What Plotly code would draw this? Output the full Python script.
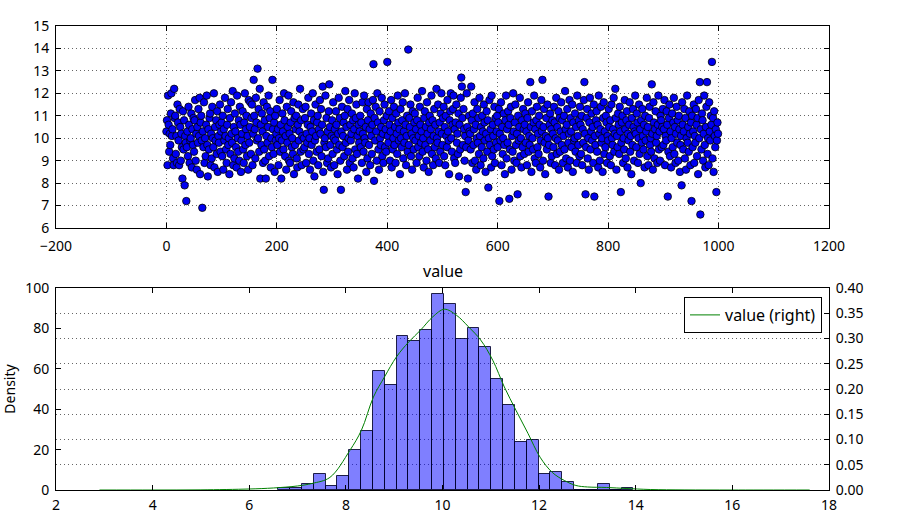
import plotly.graph_objects as go

# ---- data ----
values = [
10.3,10.8,8.8,11.9,10.6,9.4,10.2,9.7,11.1,12.0,10.1,10.4,9.1,8.8,12.2,10.9,11.0,9.3,10.1,8.9,11.5,10.7,9.9,8.8,11.3,10.5,9.0,10.2,9.6,8.2,11.2,9.5,10.8,7.9,10.1,9.8,7.2,9.6,10.3,9.2,11.4,10.6,8.9,9.9,10.0,11.1,8.7,10.4,9.7,10.9,
9.4,10.8,11.7,9.0,10.2,8.6,10.5,9.8,11.3,10.1,11.8,8.4,10.7,11.0,9.9,6.9,10.3,9.6,11.6,8.9,10.0,9.2,10.6,11.9,9.7,8.3,10.4,9.5,10.9,11.1,8.8,10.2,9.1,11.4,10.0,9.6,12.0,8.7,10.5,9.9,10.8,9.3,11.2,8.5,10.1,9.8,10.6,11.5,9.4,10.3,
10.7,9.2,11.0,8.6,10.4,9.9,11.8,10.1,9.5,8.9,10.6,11.3,9.7,10.0,8.4,10.9,9.3,11.6,10.2,9.8,12.1,8.8,10.5,9.1,11.1,10.3,9.6,8.7,11.9,10.0,9.4,10.8,9.0,11.4,10.6,8.5,9.9,10.2,11.2,9.5,8.9,10.7,12.0,9.7,10.4,11.0,9.2,10.1,8.6,11.7,
9.8,10.5,11.6,9.3,10.9,11.5,8.8,10.2,12.6,11.0,10.4,9.1,11.8,10.7,9.9,13.1,10.0,11.3,9.4,12.2,8.2,10.6,9.7,11.1,10.3,8.9,11.6,9.5,10.8,9.0,8.2,10.1,11.4,9.8,10.5,11.9,9.2,10.9,11.2,8.7,10.0,9.6,12.6,10.4,9.3,10.7,8.5,11.0,9.9,10.2,
11.3,9.7,10.4,8.8,10.0,11.7,9.4,10.6,8.2,9.9,11.1,10.3,9.5,12.0,10.8,9.2,10.1,8.6,11.4,9.8,10.5,11.9,9.0,10.2,8.9,10.7,11.2,9.6,10.0,9.3,11.6,8.4,10.9,9.7,10.4,11.0,9.1,8.7,10.6,11.5,9.9,10.3,12.2,9.4,10.8,8.8,10.1,11.3,9.5,10.0,
9.6,10.9,11.4,8.9,10.2,9.8,10.6,11.8,9.3,10.0,8.6,10.5,11.1,9.7,10.3,12.0,9.0,10.8,8.3,9.9,11.5,10.1,9.4,10.7,11.0,8.8,10.4,9.5,11.7,10.2,11.3,9.2,10.6,12.3,8.5,7.7,9.8,10.0,11.9,9.6,10.9,8.9,10.3,9.1,11.2,12.4,10.5,9.7,8.7,10.1,
10.8,9.3,11.6,10.0,8.8,10.4,9.9,11.2,10.6,9.5,8.4,10.2,11.8,9.7,10.9,9.0,7.7,10.3,11.4,9.6,10.1,10.7,9.2,11.0,12.1,9.8,10.5,8.6,11.3,9.4,10.0,11.7,8.9,10.6,9.9,10.2,11.1,9.1,10.8,8.7,10.4,12.0,9.5,10.9,11.5,9.3,10.1,8.2,10.6,9.8,
10.3,11.0,9.6,10.7,8.9,11.6,10.2,9.4,11.9,10.0,9.8,10.5,8.5,11.3,9.1,10.8,11.6,9.7,10.4,8.8,11.1,10.1,9.3,10.6,11.7,13.3,8.1,10.9,9.9,11.4,10.3,9.0,12.0,10.7,9.5,8.6,11.2,10.0,9.7,10.5,11.8,9.2,10.2,8.9,10.8,11.5,9.6,10.4,9.4,11.0,
13.4,10.1,9.8,11.2,10.6,9.0,10.3,11.7,8.7,10.9,9.5,10.0,11.4,9.7,10.5,8.9,11.1,10.2,9.3,11.9,10.7,9.9,10.4,8.4,11.3,10.0,9.6,10.8,11.6,9.1,10.3,9.8,12.0,10.6,8.8,10.1,11.0,9.4,13.95,9.7,10.9,10.5,11.5,9.2,10.2,8.6,11.2,10.0,9.5,10.7,
11.1,9.9,10.4,8.9,10.8,11.8,9.6,10.1,9.2,11.4,10.6,9.8,10.3,12.1,9.4,10.0,8.7,10.9,11.2,9.7,10.5,9.0,11.6,10.2,9.5,8.5,10.7,11.0,9.9,10.4,11.9,9.3,10.8,8.8,10.1,11.3,9.6,10.6,9.1,12.2,10.0,9.8,11.5,10.3,8.9,10.7,9.4,11.1,12.0,10.2,
9.7,10.9,11.4,9.2,10.5,8.8,11.0,10.1,9.6,11.7,10.3,9.9,8.4,10.8,11.2,12.0,10.0,9.4,10.6,11.3,11.9,9.1,10.4,8.9,10.7,11.5,9.8,10.2,9.3,11.1,8.3,10.6,9.5,11.8,12.7,12.3,10.9,9.7,11.3,10.4,9.0,10.1,7.6,9.6,12.0,10.5,8.2,9.9,11.0,10.3,
10.2,9.5,12.3,10.8,8.9,11.1,9.7,10.4,11.6,9.0,10.6,8.6,10.0,11.3,9.8,10.9,9.3,11.8,10.1,8.8,10.5,9.6,11.0,10.3,9.1,11.5,10.7,9.9,8.5,10.2,11.2,9.4,10.8,7.8,10.0,11.7,9.7,10.4,8.7,11.9,9.2,10.6,10.1,9.5,11.4,8.9,10.9,9.8,10.3,11.0,
9.6,10.7,11.3,7.2,10.2,9.9,11.6,8.8,10.5,9.3,10.0,11.1,9.7,8.4,10.8,11.9,9.1,10.4,9.8,11.2,10.6,7.3,9.5,10.9,11.4,8.6,10.1,9.4,12.0,10.3,9.0,10.7,11.5,9.7,8.9,10.2,7.5,11.0,9.9,10.5,11.8,9.2,10.0,8.7,10.8,9.6,11.3,10.4,9.3,10.6,
11.1,9.8,10.3,8.8,10.9,11.6,9.4,10.1,9.7,12.5,10.5,8.5,11.2,10.0,9.5,10.7,11.9,9.1,10.4,8.9,10.8,11.4,9.6,10.2,9.3,11.0,10.6,8.7,9.9,11.7,10.3,12.6,9.0,10.5,11.3,9.8,8.4,10.1,10.9,9.5,11.5,10.0,7.4,9.7,10.6,11.1,8.9,10.4,9.2,10.8,
10.2,9.6,11.4,10.7,8.8,10.0,11.8,9.3,10.5,9.9,11.2,8.6,10.9,9.4,10.3,11.6,9.7,10.8,8.9,10.1,11.0,9.5,12.1,10.4,9.1,10.6,11.3,8.7,9.8,10.2,11.7,9.0,10.9,10.3,9.6,11.5,8.5,10.7,9.9,10.0,11.1,9.4,10.5,8.9,11.9,10.1,9.7,10.8,9.2,11.4,
10.6,9.3,11.0,8.8,10.4,9.8,11.7,12.5,10.2,7.5,9.6,10.9,11.3,9.1,10.0,8.6,10.7,11.8,9.5,10.3,11.1,9.9,10.5,8.9,11.5,7.4,10.1,9.7,10.8,11.2,9.4,10.6,8.7,11.9,10.2,9.0,10.4,11.4,9.8,10.0,8.5,10.9,11.6,9.3,10.3,9.6,11.0,10.7,8.9,10.1,
9.9,11.3,10.5,9.2,10.8,8.8,11.5,10.0,9.7,10.4,11.8,9.4,10.2,12.2,10.9,8.6,10.1,9.6,11.1,10.6,9.3,11.4,10.3,7.6,9.8,10.7,11.0,8.9,10.0,9.5,11.7,10.4,9.1,10.8,11.2,8.7,10.2,9.9,10.6,11.6,9.4,10.1,8.4,10.9,9.7,11.3,10.5,9.0,10.3,11.9,
10.2,9.6,11.1,10.7,8.9,10.0,11.5,9.3,10.4,8.0,10.8,9.8,11.3,10.1,9.5,10.6,8.7,11.0,9.9,10.3,11.8,9.2,10.5,8.8,10.9,11.4,9.7,10.0,9.4,12.4,10.2,8.6,11.6,10.7,9.1,10.4,11.2,9.8,10.1,8.9,10.6,11.9,9.5,10.3,9.0,11.0,10.8,9.6,10.5,11.3,
9.7,10.4,11.7,8.8,10.1,9.9,11.2,10.6,7.4,9.4,10.9,11.5,9.2,10.3,8.7,10.0,11.1,9.6,10.7,11.8,9.3,10.5,8.9,10.2,11.4,9.8,10.8,9.0,11.0,10.4,8.5,9.7,10.1,7.9,11.6,10.6,9.5,10.3,11.3,9.1,10.9,8.6,10.0,11.9,9.8,10.5,9.4,11.2,10.2,8.8,
10.7,7.2,11.0,9.6,10.3,11.5,8.9,10.1,9.8,11.3,10.6,9.2,10.9,8.4,11.7,10.0,12.5,6.6,10.4,9.5,11.1,10.8,9.0,10.2,11.9,9.7,8.7,10.5,11.4,12.5,9.3,10.0,8.8,11.6,10.3,9.9,11.0,10.6,13.4,9.1,10.9,8.5,11.2,10.1,9.6,10.4,7.6,9.9,10.7,10.2,
]
index = list(range(len(values)))

# histogram (30 bins from the data minimum)
bin_start = 6.6
bin_width = 0.245
bin_counts = [1, 1, 3, 8, 2, 7, 20, 29, 59, 52, 76, 74, 79, 97, 92,
              75, 80, 71, 55, 42, 24, 25, 8, 9, 4, 0, 0, 3, 0, 1]
bin_centers = [bin_start + bin_width * (i + 0.5) for i in range(len(bin_counts))]

# kernel density estimate (right axis)
kde_x = [2.9, 4.0, 5.0, 6.0, 6.5, 7.0, 7.3, 7.67, 8.08, 8.32, 8.57, 8.80, 9.05, 9.30,
         9.55, 9.80, 10.04, 10.29, 10.54, 10.79, 11.04, 11.28, 11.52, 11.77, 12.02,
         12.27, 12.52, 12.76, 13.0, 13.4, 13.8, 14.3, 15.0, 16.0, 17.6]
kde_y = [0.0, 0.0, 0.0003, 0.002, 0.004, 0.008, 0.013, 0.025, 0.078, 0.118, 0.184,
         0.224, 0.264, 0.293, 0.317, 0.343, 0.358, 0.346, 0.323, 0.297, 0.257, 0.204,
         0.158, 0.112, 0.065, 0.035, 0.019, 0.009, 0.006, 0.005, 0.003, 0.001, 0.0002,
         0.0, 0.0]

# ---- figure ----
W, H = 902, 516
FONT = "Noto Sans"
grid_col = "rgba(0,0,0,0.6)"

fig = go.Figure()

fig.add_trace(go.Scatter(
    x=index, y=values, mode="markers", xaxis="x", yaxis="y",
    marker=dict(size=7.5, color="#0000f0", line=dict(color="black", width=0.8)),
    showlegend=False, hoverinfo="skip"))

fig.add_trace(go.Bar(
    x=bin_centers, y=bin_counts, width=bin_width, xaxis="x2", yaxis="y2",
    marker=dict(color="rgba(0,0,255,0.5)", line=dict(color="rgba(0,0,40,0.85)", width=1)),
    showlegend=False, hoverinfo="skip"))

fig.add_trace(go.Scatter(
    x=kde_x, y=kde_y, mode="lines", xaxis="x2", yaxis="y3",
    line=dict(color="#008000", width=1, shape="spline"),
    name="value (right)"))

xd = [56 / W, 829 / W]
common_axis = dict(showline=True, linecolor="black", linewidth=1, ticks="inside",
                   ticklen=5, tickcolor="black", zeroline=False, automargin=False,
                   tickfont=dict(family=FONT, size=14, color="black"))
grid_style = dict(showgrid=True, gridcolor=grid_col, griddash="1px,3px", gridwidth=1)

fig.update_layout(
    width=W, height=H, margin=dict(l=0, r=0, t=0, b=0, autoexpand=False),
    paper_bgcolor="white", plot_bgcolor="white",
    font=dict(family=FONT, size=14, color="black"),
    bargap=0,
    xaxis=dict(domain=xd, anchor="y", range=[-200, 1200], dtick=200, mirror="allticks",
               ticklabelstandoff=5, **grid_style, **common_axis),
    yaxis=dict(domain=[1 - 228 / H, 1 - 26 / H], anchor="x", range=[6, 15], dtick=1,
               mirror="allticks", ticklabelstandoff=3, **grid_style, **common_axis),
    xaxis2=dict(domain=xd, anchor="y2", range=[2, 18], dtick=2, mirror="ticks",
                ticklabelstandoff=2, showgrid=False, **common_axis),
    yaxis2=dict(domain=[1 - 490 / H, 1 - 288 / H], anchor="x2", range=[0, 100], dtick=20,
                showgrid=False, ticklabelstandoff=3,
                title=dict(text="Density", standoff=8, font=dict(family=FONT, size=14)),
                **common_axis),
    yaxis3=dict(overlaying="y2", anchor="x2", side="right", range=[0, 0.4], dtick=0.05,
                tickformat=".2f", ticklabelstandoff=3, **grid_style, **common_axis),
    legend=dict(x=822 / W, xanchor="right", y=1 - 297 / H, yanchor="top",
                bordercolor="black", borderwidth=1, bgcolor="white", itemwidth=30,
                font=dict(family=FONT, size=16, color="black")),
    annotations=[dict(text="value", x=(xd[0] + xd[1]) / 2, xref="paper",
                      y=1 - 284 / H, yref="paper", yanchor="bottom", showarrow=False,
                      font=dict(family=FONT, size=16, color="black"))],
)

fig.write_html("out.html")
